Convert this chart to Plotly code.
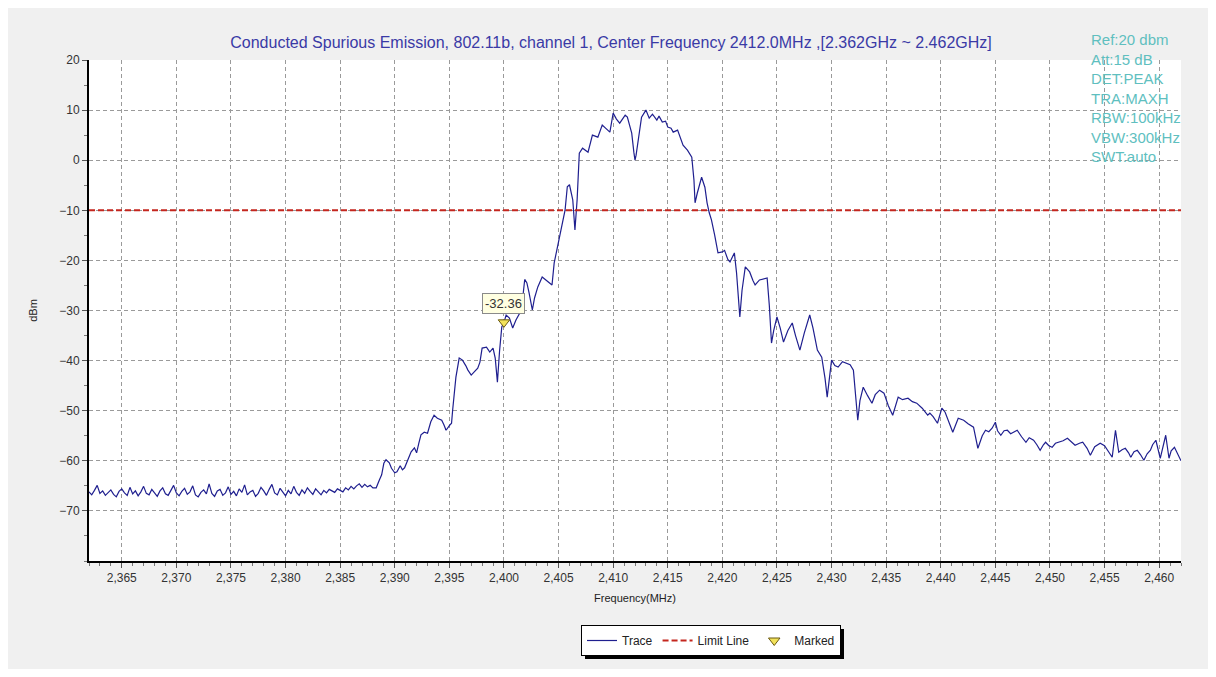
import plotly.graph_objects as go

# ---------------- data ----------------
# noise floor sampled every 0.25 MHz from 2362.0 to 2388.0 MHz
floor_start_mhz = 2362.0
floor_step_mhz = 0.25
floor_dbm = [
    -66.2, -66.8, -65.9, -64.9, -66.5, -66.0, -66.9, -66.3, -65.8, -66.7,
    -67.2, -66.1, -65.6, -66.4, -66.9, -65.3, -66.6, -66.0, -67.0, -66.2,
    -65.1, -66.5, -66.8, -65.7, -66.3, -67.1, -66.0, -65.4, -66.6, -66.9,
    -65.9, -64.9, -66.4, -67.0, -66.1, -65.5, -66.7, -66.2, -65.0, -66.8,
    -67.2, -66.3, -65.8, -66.6, -64.6, -66.5, -67.1, -66.0, -65.7, -66.9,
    -66.4, -65.2, -66.7, -66.1, -67.0, -65.6, -66.3, -64.8, -66.8, -66.2,
    -65.9, -67.1, -66.5, -65.3, -66.0, -66.9, -65.7, -64.7, -66.4, -66.8,
    -65.5, -66.2, -67.0, -65.9, -66.6, -65.1, -66.3, -66.9, -65.8, -66.5,
    -65.4, -66.1, -66.7, -65.6, -66.2, -66.8, -65.9, -66.4, -65.7, -66.0,
    -66.3, -65.6, -65.9, -66.2, -65.4, -65.8, -65.1, -65.6, -65.0, -64.6,
    -65.3, -64.7, -65.2, -64.9, -65.4,
]

# emission region (frequency in MHz, level in dBm)
emission_mhz = [
    2388.3, 2388.6, 2388.8, 2389.0, 2389.2, 2389.5, 2389.7, 2390.0, 2390.2, 2390.5,
    2390.7, 2390.9, 2391.1, 2391.3, 2391.5, 2391.8, 2392.0, 2392.2, 2392.4, 2392.7,
    2393.0, 2393.3, 2393.6, 2393.9, 2394.3, 2394.5, 2394.7, 2395.0, 2395.2, 2395.3,
    2395.5, 2395.6, 2395.9, 2396.2, 2396.5, 2396.7, 2397.0, 2397.3, 2397.6, 2397.8,
    2398.0, 2398.4, 2398.7, 2399.0, 2399.2, 2399.3, 2399.4, 2399.6, 2399.8, 2400.0,
    2400.2, 2400.5, 2400.8, 2401.1, 2401.4, 2401.6, 2401.9, 2402.1, 2402.3, 2402.6,
    2402.8, 2403.1, 2403.5, 2404.0, 2404.4, 2404.6, 2404.9, 2405.3, 2405.6, 2405.8,
    2406.0, 2406.3, 2406.5, 2406.7, 2406.8, 2406.9, 2407.2, 2407.4, 2407.7, 2408.1,
    2408.4, 2408.6, 2409.0, 2409.3, 2409.7, 2410.0, 2410.3, 2410.6, 2410.9, 2411.1,
    2411.3, 2411.5, 2411.7, 2411.9, 2412.0, 2412.1, 2412.3, 2412.6, 2413.0, 2413.3,
    2413.6, 2414.0, 2414.2, 2414.5, 2414.8, 2415.0, 2415.3, 2415.5, 2415.9, 2416.2,
    2416.4, 2416.8, 2417.2, 2417.4, 2417.5, 2417.7, 2418.1, 2418.4, 2418.6, 2418.8,
    2419.0, 2419.3, 2419.6, 2420.0, 2420.2, 2420.5, 2420.7, 2421.1, 2421.3, 2421.6,
    2421.8, 2422.1, 2422.5, 2422.8, 2423.0, 2423.4, 2424.1, 2424.3, 2424.5, 2424.7,
    2425.0, 2425.3, 2425.6, 2426.0, 2426.4, 2426.7, 2427.1, 2427.5, 2428.0, 2428.3,
    2428.7, 2429.1, 2429.4, 2429.6, 2429.8, 2430.0, 2430.3, 2430.6, 2431.0, 2431.4,
    2431.7, 2432.0, 2432.2, 2432.4, 2432.6, 2432.9, 2433.3, 2433.7, 2434.0, 2434.4,
    2434.8, 2435.2, 2435.6, 2436.1, 2436.5, 2437.0, 2437.4, 2437.8, 2438.3, 2438.8,
    2439.0, 2439.3, 2439.7, 2440.1, 2440.4, 2440.7, 2441.1, 2441.6, 2442.1, 2442.5,
    2443.0, 2443.4, 2443.8, 2444.1, 2444.4, 2444.7, 2445.0, 2445.2, 2445.5, 2445.8,
    2446.1, 2446.4, 2446.7, 2447.0, 2447.4, 2447.8, 2448.1, 2448.5, 2448.8, 2449.1,
    2449.4, 2449.6, 2449.9, 2450.2, 2450.5, 2450.8, 2451.2, 2451.6, 2452.0, 2452.3,
    2452.7, 2453.0, 2453.4, 2453.7, 2454.1, 2454.6, 2455.0, 2455.3, 2455.7, 2456.0,
    2456.3, 2456.6, 2456.9, 2457.2, 2457.4, 2457.7, 2458.0, 2458.3, 2458.6, 2458.9,
    2459.2, 2459.4, 2459.7, 2460.1, 2460.4, 2460.6, 2460.9, 2461.1, 2461.4, 2461.7,
    2462.0,
]
emission_dbm = [
    -65.4, -63.8, -62.8, -60.5, -59.8, -60.4, -61.5, -62.4, -62.2, -61.0,
    -61.8, -61.4, -60.2, -59.0, -58.2, -57.4, -58.4, -56.5, -54.8, -54.3,
    -54.5, -52.2, -50.9, -51.5, -51.9, -52.8, -53.9, -53.0, -52.5, -49.9,
    -45.9, -43.3, -39.5, -39.9, -41.0, -41.9, -42.9, -42.3, -41.5, -40.3,
    -37.5, -37.3, -38.3, -37.5, -39.5, -41.9, -44.3, -38.0, -33.3, -32.36,
    -30.9, -31.5, -33.5, -31.9, -30.5, -29.9, -23.8, -24.5, -26.5, -29.9,
    -27.5, -25.3, -23.3, -24.3, -24.9, -20.5, -17.3, -13.3, -9.9, -5.3,
    -4.9, -7.9, -13.9, -7.9, -3.4, 1.4, 2.4, 2.0, 1.6, 5.0,
    4.8, 4.6, 7.0, 6.4, 5.6, 9.4, 8.2, 7.4, 8.5, 9.0,
    8.6, 7.0, 5.4, 1.5, 0.0, 1.0, 4.0, 8.6, 10.0, 8.4,
    9.2, 8.0, 8.8, 7.6, 7.8, 6.6, 6.4, 5.6, 6.0, 4.0,
    3.0, 2.0, 0.6, -4.0, -8.5, -6.6, -3.4, -5.4, -8.5, -10.5,
    -11.9, -15.0, -18.5, -18.3, -18.0, -19.8, -20.3, -18.5, -22.5, -31.3,
    -26.0, -21.3, -22.3, -24.0, -24.9, -23.9, -23.5, -29.0, -36.5, -34.0,
    -31.3, -33.5, -36.3, -34.0, -32.5, -35.0, -37.9, -34.5, -30.9, -33.5,
    -37.9, -39.3, -43.5, -47.3, -43.0, -39.9, -41.0, -41.3, -40.2, -40.5,
    -40.8, -41.9, -47.0, -51.9, -48.0, -45.3, -47.0, -48.5, -46.8, -45.9,
    -46.5, -49.0, -50.9, -47.3, -47.8, -47.5, -48.2, -48.5, -49.5, -50.9,
    -50.5, -51.2, -52.5, -49.5, -50.3, -51.9, -54.3, -51.5, -51.9, -52.6,
    -53.3, -57.5, -55.0, -53.9, -54.2, -53.5, -52.3, -54.0, -54.9, -54.0,
    -53.9, -54.6, -54.2, -53.9, -55.2, -56.3, -55.4, -55.9, -56.8, -57.9,
    -56.8, -56.3, -57.0, -57.3, -56.5, -56.3, -56.0, -55.5, -56.4, -56.9,
    -56.5, -56.3, -57.5, -58.9, -57.2, -56.5, -57.0, -57.9, -59.3, -53.9,
    -58.3, -57.8, -57.5, -58.4, -59.3, -58.2, -57.9, -58.8, -59.9, -58.6,
    -57.9, -56.8, -55.9, -59.5, -57.0, -54.9, -59.5, -58.0, -57.3, -58.6,
    -60.0,
]

limit_dbm = -10.0
span_mhz = [2362.0, 2462.0]
marker_mhz = [2400.0]
marker_dbm = [-32.36]

title_text = ("Conducted Spurious Emission, 802.11b, channel 1, Center Frequency 2412.0MHz "
              ",[2.362GHz ~ 2.462GHz]")
settings_lines = ["Ref:20 dbm", "Att:15 dB", "DET:PEAK", "TRA:MAXH",
                  "RBW:100kHz", "VBW:300kHz", "SWT:auto"]

# ---------------- build ----------------
trace_mhz = [floor_start_mhz + floor_step_mhz * i for i in range(len(floor_dbm))] + emission_mhz
trace_dbm = floor_dbm + emission_dbm

OFF = 8  # page body margin
W, H = 1200, 661
ML, MR, MT, MB = 81, 27, 52, 108
PW, PH = W - ML - MR, H - MT - MB


def px2x(px):
    return (px - OFF - ML) / PW


def px2y(py):
    return (H - MB - (py - OFF)) / PH


fig = go.Figure()
fig.add_trace(go.Scatter(
    x=trace_mhz, y=trace_dbm, mode="lines", name="Trace",
    line=dict(color="#1f1f8f", width=1.2),
))
fig.add_trace(go.Scatter(
    x=span_mhz, y=[limit_dbm, limit_dbm], mode="lines", name="Limit Line",
    line=dict(color="#c4261e", width=2, dash="6px,3px"),
))
fig.add_trace(go.Scatter(
    x=marker_mhz, y=marker_dbm, mode="markers", name="Marked",
    marker=dict(symbol="triangle-down", size=10, color="#f2e25a",
                line=dict(color="#6b5a10", width=1)),
))

fig.add_annotation(
    x=marker_mhz[0], y=marker_dbm[0], xref="x", yref="y",
    text=f"{marker_dbm[0]:.2f}", showarrow=False, yshift=19,
    font=dict(family="Arial, Liberation Sans, sans-serif", size=13, color="#333333"),
    bgcolor="#ffffe1", bordercolor="#8a8a8a", borderwidth=1, borderpad=2,
)

fig.add_annotation(
    xref="paper", yref="paper", x=px2x(1089), y=px2y(29),
    xanchor="left", yanchor="top", align="left", showarrow=False,
    text="<br>".join(settings_lines),
    font=dict(family="Arial, Liberation Sans, sans-serif", size=15, color="#5fbfbf"),
)

# legend drop shadow
fig.add_shape(type="rect", xref="paper", yref="paper",
              x0=px2x(585), x1=px2x(844), y0=px2y(659), y1=px2y(629),
              line=dict(width=0), fillcolor="black", layer="below")

font_main = "Arial, Liberation Sans, sans-serif"
grid_kw = dict(showgrid=True, gridcolor="#9a9a9a", gridwidth=1, griddash="4px,3px")

fig.update_layout(
    width=W, height=H,
    margin=dict(l=ML, r=MR, t=MT, b=MB),
    paper_bgcolor="#f0f0f0", plot_bgcolor="white",
    font=dict(family=font_main, size=12, color="#333333"),
    title=dict(text=title_text, x=(611 - OFF) / W, xref="container", xanchor="center",
               y=1 - (42 - OFF) / H, yref="container", yanchor="middle",
               font=dict(family=font_main, size=16, color="#3a3aa6")),
    showlegend=True,
    legend=dict(orientation="h", x=px2x(711), y=px2y(625), xanchor="center", yanchor="top",
                bgcolor="white", bordercolor="black", borderwidth=1,
                font=dict(family=font_main, size=12, color="#222222"),
                itemwidth=30, tracegroupgap=0),
    xaxis=dict(range=span_mhz, dtick=5, tick0=2365, tickformat=",d",
               showline=True, linecolor="black", linewidth=2, mirror=False,
               ticks="outside", ticklen=5, tickcolor="#555555",
               minor=dict(dtick=1, ticks="outside", ticklen=3, tickcolor="#777777", showgrid=False),
               title=dict(text="Frequency(MHz)", font=dict(size=11, color="#222222"), standoff=10),
               zeroline=False, tickfont=dict(size=12, color="#333333"), **grid_kw),
    yaxis=dict(range=[-80, 20], tickvals=[20, 10, 0, -10, -20, -30, -40, -50, -60, -70],
               showline=True, linecolor="black", linewidth=2,
               ticks="outside", ticklen=5, tickcolor="#555555",
               minor=dict(dtick=5, ticks="outside", ticklen=3, tickcolor="#777777", showgrid=False),
               title=dict(text="dBm", font=dict(size=11, color="#222222"), standoff=19),
               zeroline=False, tickfont=dict(size=12, color="#333333"), **grid_kw),
)

fig.write_html("out.html")
